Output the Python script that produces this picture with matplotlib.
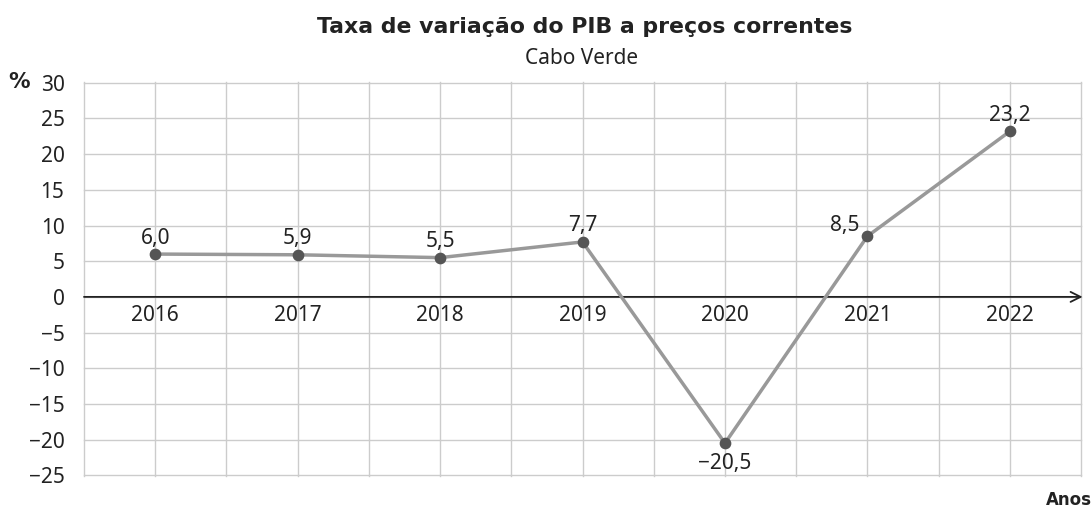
import matplotlib.pyplot as plt
import numpy as np

anos = ["2016", "2017", "2018", "2019", "2020", "2021", "2022"]
taxa = [6.0, 5.9, 5.5, 7.7, -20.5, 8.5, 23.2]
y_ticks = [30, 25, 20, 15, 10, 5, 0, -5, -10, -15, -20, -25]

plt.rcParams['font.family'] = ['Noto Sans', 'DejaVu Sans']
bold_font = ['DejaVu Sans']
txt = "#222222"
fs = 15

fig = plt.figure(figsize=(10.92, 5.13), dpi=100)
ax = fig.add_axes([0.0769, 0.0721, 0.9131, 0.7679])

x = np.arange(len(anos))
ax.plot(x, taxa, color="#999999", lw=2.5, zorder=3)
ax.scatter(x, taxa, s=55, color="#555555", zorder=4)

# value labels, comma as decimal separator
for xi, v in zip(x, taxa):
    s = f"{v:.1f}".replace(".", ",").replace("-", "\u2212")
    if v < 0:
        ax.annotate(s, (xi, v), xytext=(0, -7), textcoords="offset points",
                    ha="center", va="top", fontsize=fs, color=txt)
    elif anos[xi] == "2021":
        ax.annotate(s, (xi, v), xytext=(-6, 0), textcoords="offset points",
                    ha="right", va="bottom", fontsize=fs, color=txt)
    else:
        ax.annotate(s, (xi, v), xytext=(0, 4), textcoords="offset points",
                    ha="center", va="bottom", fontsize=fs, color=txt)

# year labels sit just under the zero line
for xi, a in zip(x, anos):
    ax.text(xi, -1.2, a, ha="center", va="top", fontsize=fs, color=txt)

ax.set_xlim(-0.5, 6.5)
ax.set_ylim(-25.1, 30.1)
ax.set_xticks(np.arange(-0.5, 6.51, 0.5))
ax.set_xticklabels([])
ax.tick_params(axis="x", length=0)
ax.set_yticks(y_ticks)
ax.set_yticklabels([str(t).replace("-", "\u2212") for t in y_ticks],
                   fontsize=fs, color=txt)
ax.tick_params(axis="y", length=0, pad=14)
ax.grid(True, color="#cccccc", lw=1)
for g in ax.get_xgridlines() + ax.get_ygridlines():
    g.set_clip_on(False)
for sp in ax.spines.values():
    sp.set_visible(False)

# zero axis with arrow head
ax.annotate("", xy=(1.0015, 0), xytext=(0, 0),
            xycoords=("axes fraction", "data"),
            arrowprops=dict(arrowstyle="->", color="#222222", lw=1.3,
                            mutation_scale=18, shrinkA=0, shrinkB=0),
            zorder=2)

fig.text(0.535, 0.947, "Taxa de variação do PIB a preços correntes",
         ha="center", va="center", fontsize=15.8, fontweight="bold",
         family=bold_font, color=txt)
fig.text(0.533, 0.886, "Cabo Verde", ha="center", va="center",
         fontsize=fs, color=txt)
fig.text(0.008, 0.84, "%", ha="left", va="center", fontsize=15.5,
         fontweight="bold", family=bold_font, color=txt)
fig.text(1.0, 0.025, "Anos", ha="right", va="center", fontsize=12,
         fontweight="bold", family=bold_font, color=txt)

fig.savefig("out.png", dpi=100)
